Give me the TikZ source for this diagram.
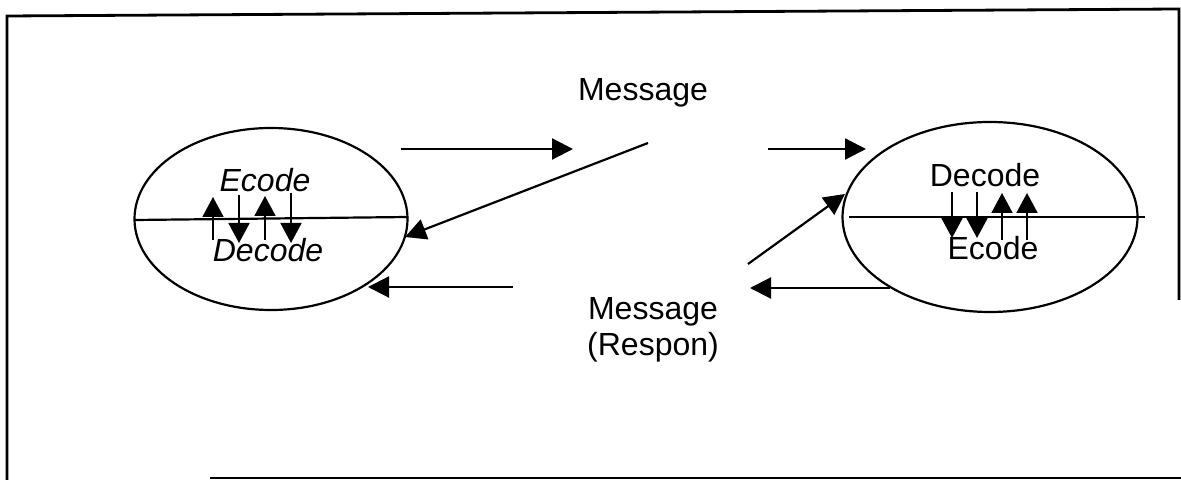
\documentclass[tikz,border=0pt]{standalone}
\usepackage{fontspec}
\setmainfont{Liberation Sans}
\usetikzlibrary{arrows.meta,shapes.geometric}
\begin{document}
\begin{tikzpicture}[x=0.5pt,y=-0.5pt,
  rule/.style={line width=1.1pt},
  border/.style={line width=1.4pt},
  flow/.style={line width=1.1pt,-{Triangle[length=10.5pt,width=10.5pt]}},
  tick/.style={line width=0.9pt,-{Triangle[length=10pt,width=10.5pt]}},
  lbl/.style={font=\fontsize{16}{18}\selectfont, inner sep=0pt, align=center},
  party/.style={ellipse, draw, line width=1.1pt, inner sep=0pt}]
\useasboundingbox (0,0) rectangle (1181,480);

% outer frame
\draw[border] (210,478) -- (1181,478);
\draw[border] (7,480) -- (7,16) -- (1179,9) -- (1179,300);

% the two parties
\node[party, minimum width=136.5pt, minimum height=91pt] (sender) at (271,219) {};
\node[party, minimum width=147.5pt, minimum height=95pt] (receiver) at (990,217) {};

% dividing lines
\coordinate (sl) at (135,220);
\coordinate (sr) at (408,217);
\coordinate (rl) at (849,217);
\coordinate (rr) at (1145,217);
\draw[rule] (sl) -- (sr);
\draw[rule] (rl) -- (rr);

% labels inside the parties
\node[lbl, font=\fontsize{16}{18}\selectfont\itshape] (senc) at (265,180) {Ecode};
\node[lbl, font=\fontsize{16}{18}\selectfont\itshape] (sdec) at (268,250) {Decode};
\node[lbl] (rdec) at (985,175) {Decode};
\node[lbl] (renc) at (993,248) {Ecode};

% small arrows across the left line
\foreach \x/\a/\b [count=\i] in {213/240/197, 239/195/243, 265/240/196, 291/193/243}{
  \coordinate (sa\i) at (\x,\a);
  \coordinate (sb\i) at (\x,\b);
  \draw[tick] (sa\i) -- (sb\i);
}
% small arrows across the right line
\foreach \x/\a/\b [count=\i] in {952/192/238, 977/192/238, 1002/240/193, 1027/240/193}{
  \coordinate (ra\i) at (\x,\a);
  \coordinate (rb\i) at (\x,\b);
  \draw[tick] (ra\i) -- (rb\i);
}

% messages
\node[lbl] (msg) at (643,93) {Message};
\node[lbl] (resp) at (653,330) {Message\\(Respon)};

% flow arrows
\coordinate (f1a) at (401,149); \coordinate (f1b) at (573,149);
\coordinate (f2a) at (768,149); \coordinate (f2b) at (866,149);
\coordinate (f3a) at (648,143); \coordinate (f3b) at (405,237);
\coordinate (f4a) at (748,264); \coordinate (f4b) at (845,194);
\coordinate (f5a) at (513,287); \coordinate (f5b) at (368,287);
\coordinate (f6a) at (890,288); \coordinate (f6b) at (750,288);
\draw[flow] (f1a) -- (f1b);
\draw[flow] (f2a) -- (f2b);
\draw[flow] (f3a) -- (f3b);
\draw[flow] (f4a) -- (f4b);
\draw[flow] (f5a) -- (f5b);
\draw[flow] (f6a) -- (f6b);
\end{tikzpicture}
\end{document}
